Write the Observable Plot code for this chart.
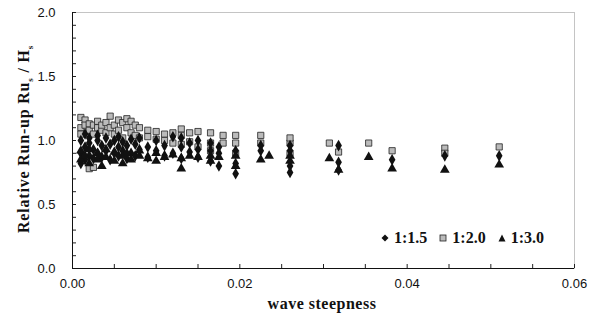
<!DOCTYPE html>
<html><head><meta charset="utf-8">
<script src="https://cdn.jsdelivr.net/npm/d3@7"></script>
<script src="https://cdn.jsdelivr.net/npm/@observablehq/plot@0.6"></script>
<style>
body{margin:0;background:#fff}
#wrap{position:relative;width:589px;height:317px;overflow:hidden}
.ttl{position:absolute;font-family:"Liberation Serif",serif;font-weight:bold;font-size:16px;color:#111;white-space:nowrap}
#ylab{left:25px;top:139px;transform:translate(-50%,-50%) rotate(-90deg);letter-spacing:0.8px}
#xlab{left:322px;top:304px;transform:translate(-50%,-50%);letter-spacing:0.5px}
#legend{position:absolute;left:381px;top:229px;font-family:"Liberation Serif",serif;font-weight:bold;font-size:16px;color:#111;display:flex;gap:12px;align-items:center}
#legend span{display:flex;align-items:center;gap:5px}
sub{font-size:9px}
</style>
</head><body><div id="wrap"></div>
<script>
const xTicks = [0, 0.02, 0.04, 0.06];
const yTicks = [0, 0.5, 1.0, 1.5, 2.0];
const seriesNames = ["1:1.5", "1:2.0", "1:3.0"];

// 1:1.5 (filled diamonds)
const s15x = [0.0010,0.0010,0.0010,0.0015,0.0015,0.0015,0.0020,0.0020,0.0020,0.0025,0.0025,0.0030,0.0030,0.0030,0.0035,0.0035,0.0040,0.0040,0.0045,0.0045,0.0050,0.0050,0.0055,0.0055,0.0055,0.0060,0.0060,0.0065,0.0065,0.0070,0.0070,0.0075,0.0075,0.0080,0.0080,0.0090,0.0090,0.0100,0.0100,0.0110,0.0110,0.0120,0.0120,0.0130,0.0130,0.0130,0.0140,0.0140,0.0150,0.0150,0.0150,0.0165,0.0165,0.0165,0.0175,0.0175,0.0175,0.0195,0.0195,0.0195,0.0225,0.0225,0.0260,0.0260,0.0260,0.0260,0.0318,0.0318,0.0318,0.0382,0.0445,0.0510];
const s15y = [0.82,0.90,1.00,0.85,0.95,1.05,0.88,0.98,1.02,0.86,0.93,0.90,1.00,1.04,0.87,0.96,0.92,1.02,0.85,0.97,0.90,1.00,0.88,0.95,1.03,0.92,0.99,0.86,0.96,0.90,1.01,0.88,0.97,0.93,1.02,0.87,0.95,0.92,1.00,0.88,0.96,0.90,1.03,0.86,0.95,1.02,0.91,0.98,0.87,0.93,1.00,0.84,0.92,0.98,0.80,0.90,0.95,0.74,0.82,0.92,0.92,0.96,0.75,0.80,0.92,0.96,0.77,0.83,0.96,0.85,0.88,0.88];

// 1:2.0 (grey squares)
const s20x = [0.0010,0.0010,0.0010,0.0015,0.0015,0.0020,0.0020,0.0020,0.0025,0.0025,0.0025,0.0030,0.0030,0.0035,0.0035,0.0040,0.0040,0.0045,0.0045,0.0050,0.0050,0.0055,0.0055,0.0060,0.0060,0.0065,0.0065,0.0070,0.0070,0.0075,0.0075,0.0080,0.0080,0.0090,0.0090,0.0100,0.0100,0.0110,0.0110,0.0120,0.0120,0.0130,0.0130,0.0130,0.0140,0.0140,0.0150,0.0150,0.0165,0.0165,0.0165,0.0180,0.0180,0.0195,0.0195,0.0195,0.0225,0.0225,0.0260,0.0260,0.0260,0.0307,0.0318,0.0354,0.0382,0.0445,0.0445,0.0510];
const s20y = [1.18,1.10,1.05,1.16,1.12,1.13,1.08,0.78,1.12,1.05,0.79,1.10,1.15,1.08,1.12,1.14,1.06,1.19,1.10,1.12,1.05,1.16,1.08,1.14,1.02,1.17,1.10,1.15,1.06,1.12,1.04,1.10,1.02,1.08,1.03,1.07,1.01,1.05,1.00,1.06,0.98,1.09,1.04,0.97,1.06,0.99,1.07,0.95,1.06,0.98,0.92,1.04,0.98,1.04,0.98,0.90,1.04,0.98,0.98,0.90,1.02,0.98,0.91,0.98,0.92,0.94,0.90,0.95];

// 1:3.0 (filled triangles)
const s30x = [0.0010,0.0010,0.0015,0.0020,0.0020,0.0030,0.0030,0.0035,0.0040,0.0040,0.0050,0.0050,0.0060,0.0060,0.0065,0.0070,0.0080,0.0080,0.0090,0.0100,0.0100,0.0110,0.0120,0.0130,0.0130,0.0140,0.0150,0.0165,0.0165,0.0175,0.0195,0.0195,0.0225,0.0235,0.0260,0.0260,0.0307,0.0318,0.0354,0.0382,0.0445,0.0510];
const s30y = [0.85,0.92,0.88,0.82,0.93,0.90,0.85,0.80,0.87,0.93,0.84,0.91,0.88,0.82,0.90,0.85,0.88,0.92,0.86,0.90,0.84,0.87,0.89,0.78,0.86,0.88,0.87,0.88,0.84,0.87,0.80,0.88,0.85,0.88,0.84,0.88,0.86,0.77,0.87,0.78,0.77,0.81];

const s15 = s15x.map((x,i)=>({x, y:s15y[i]}));
const s20 = s20x.map((x,i)=>({x, y:s20y[i]}));
const s30 = s30x.map((x,i)=>({x, y:s30y[i]}));

const chart = Plot.plot({
  width: 589, height: 317,
  marginLeft: 72, marginRight: 15, marginTop: 12, marginBottom: 49,
  style: {fontFamily: "'Liberation Sans', Arial, sans-serif", fontSize: "13px", color: "#111", background: "#fff"},
  x: {domain: [0, 0.06]},
  y: {domain: [0, 2]},
  marks: [
    Plot.frame({stroke: "#888", strokeDasharray: "1,1"}),
    Plot.axisY({ticks: d3.range(0, 2.001, 0.1), tickSize: -4, tickFormat: () => "", label: null, stroke: "#222"}),
    Plot.axisY({ticks: yTicks, tickSize: 0, tickPadding: 17, tickFormat: d3.format(".1f"), label: null, fontSize: 13}),
    Plot.axisX({ticks: d3.range(0, 0.0601, 0.005), tickSize: -4, tickFormat: () => "", label: null, stroke: "#222"}),
    Plot.axisX({ticks: xTicks, tickSize: 0, tickPadding: 10, tickFormat: d3.format(".2f"), label: null, fontSize: 13}),
    Plot.ruleX([0], {stroke: "#111"}),
    Plot.ruleY([0], {stroke: "#111"}),
    Plot.dot(s20, {x: "x", y: "y", symbol: "square", r: 3.5, fill: "#bbb", stroke: "#222", strokeWidth: 0.8}),
    Plot.dot(s15, {x: "x", y: "y", symbol: "diamond", r: 3.5, fill: "#111"}),
    Plot.dot(s30, {x: "x", y: "y", symbol: "triangle", r: 3.6, fill: "#111"})
  ]
});
const wrap = document.getElementById("wrap");
wrap.appendChild(chart);

const yl = document.createElement("div");
yl.className = "ttl"; yl.id = "ylab";
yl.innerHTML = "Relative Run-up Ru<sub>s</sub> / H<sub>s</sub>";
wrap.appendChild(yl);
const xl = document.createElement("div");
xl.className = "ttl"; xl.id = "xlab";
xl.textContent = "wave steepness";
wrap.appendChild(xl);

const lg = document.createElement("div");
lg.id = "legend";
const syms = [
  '<svg width="8" height="8"><path d="M4,0.5L7.5,4L4,7.5L0.5,4Z" fill="#111"/></svg>',
  '<svg width="8" height="8"><rect x="1" y="1" width="6" height="6" fill="#bbb" stroke="#222" stroke-width="0.8"/></svg>',
  '<svg width="8" height="8"><path d="M4,0.5L7.5,7.5L0.5,7.5Z" fill="#111"/></svg>'
];
lg.innerHTML = seriesNames.map((n,i)=>`<span>${syms[i]}${n}</span>`).join("");
wrap.appendChild(lg);
</script>
</body></html>
